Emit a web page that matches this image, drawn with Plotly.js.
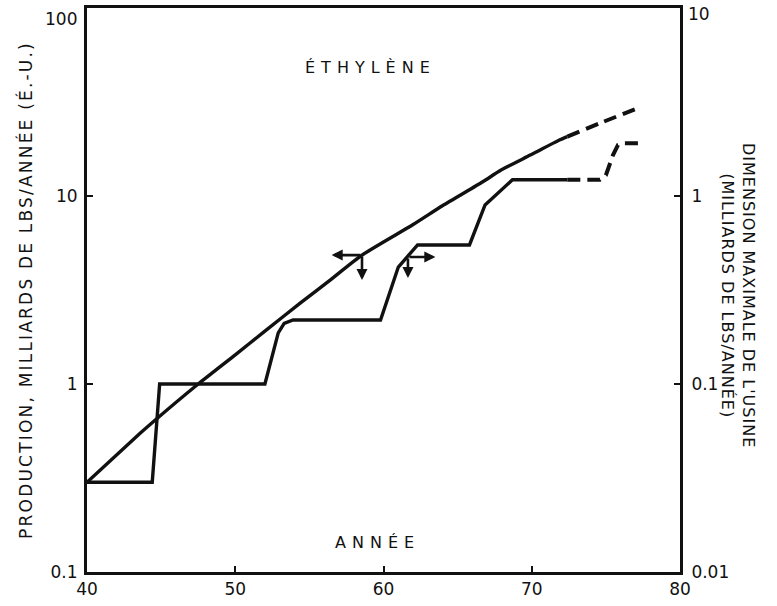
<!DOCTYPE html>
<html>
<head>
<meta charset="utf-8">
<script src="https://cdn.plot.ly/plotly-3.0.1.min.js"></script>
<style>html,body{margin:0;padding:0;background:#fff;}#chart{width:777px;height:606px;}</style>
</head>
<body>
<div id="chart"></div>
<script>
// Production (left axis, billions lbs/year)
const prodYears = [40, 43.6, 44.45, 47.5, 50, 52, 54.4, 56.4, 58.55, 62, 64, 66.7, 67.9, 69.9, 71.9, 72.4];
const prodValues = [0.3, 0.548, 0.628, 1.0, 1.43, 1.91, 2.70, 3.57, 4.85, 7.05, 8.9, 11.9, 13.7, 16.5, 19.9, 20.7];
const prodProjYears = [72.4, 74.6, 77.2];
const prodProjValues = [20.7, 24.4, 29.4];

// Maximum plant size (right axis, billions lbs/year)
const plantYears = [40, 44.4, 44.9, 52.0, 52.9, 53.3, 53.9, 59.8, 61.0, 61.6, 62.3, 65.8, 66.85, 68.7, 72.4];
const plantValues = [0.03, 0.03, 0.1, 0.1, 0.187, 0.21, 0.219, 0.219, 0.419, 0.474, 0.549, 0.549, 0.896, 1.22, 1.22];
const plantProjYears = [72.4, 74.6, 75.0, 75.48, 75.82, 76.15, 77.2];
const plantProjValues = [1.22, 1.22, 1.29, 1.65, 1.87, 1.91, 1.91];

// Axis ticks (top decade labels sit just under the frame, as in the original)
const xTicks = [40, 50, 60, 70, 80];
const leftTickVals = [0.1, 1, 10];
const leftTickText = ["0.1", "1", "10"];
const leftTopTick = [100, "100"];
const rightTickVals = [0.01, 0.1, 1];
const rightTickText = ["0.01", "0.1", "1"];
const rightTopTick = [10, "10"];

// Axis-reference arrows: [tailYear, tailValue, tipYear, tipValue]
const arrowMarks = [
  [58.55, 4.85, 56.5, 4.85],
  [58.55, 4.85, 58.55, 3.57],
  [61.65, 4.74, 63.5, 4.74],
  [61.65, 4.74, 61.65, 3.66]
];

const INK = '#111';
const FONT = 'DejaVu Sans, sans-serif';

const traces = [
  {x: prodYears, y: prodValues, type: 'scatter', mode: 'lines', yaxis: 'y',
   line: {color: INK, width: 3.4, shape: 'spline', smoothing: 0.6}, hoverinfo: 'skip'},
  {x: prodProjYears, y: prodProjValues, type: 'scatter', mode: 'lines', yaxis: 'y',
   line: {color: INK, width: 4, dash: '13px,7px', shape: 'spline', smoothing: 0.6}, hoverinfo: 'skip'},
  {x: plantYears, y: plantValues, type: 'scatter', mode: 'lines', yaxis: 'y2',
   line: {color: INK, width: 3.4}, hoverinfo: 'skip'},
  {x: plantProjYears, y: plantProjValues, type: 'scatter', mode: 'lines', yaxis: 'y2',
   line: {color: INK, width: 4, dash: '13px,7px'}, hoverinfo: 'skip'}
];

const annotations = arrowMarks.map(a => ({
  x: a[2], y: Math.log10(a[3]), ax: a[0], ay: Math.log10(a[1]),
  xref: 'x', yref: 'y', axref: 'x', ayref: 'y',
  text: '', showarrow: true, arrowhead: 2, arrowsize: 0.85, arrowwidth: 2.6, arrowcolor: INK
}));

annotations.push(
  {x: 0, y: Math.log10(leftTopTick[0]), xref: 'paper', yref: 'y', text: leftTopTick[1], showarrow: false,
   font: {family: FONT, size: 17, color: INK}, xanchor: 'right', yanchor: 'middle', xshift: -8, yshift: -11},
  {x: 1, y: Math.log10(rightTopTick[0]), xref: 'paper', yref: 'y2', text: rightTopTick[1], showarrow: false,
   font: {family: FONT, size: 17, color: INK}, xanchor: 'left', yanchor: 'middle', xshift: 6, yshift: -6},
  {x: 59.1, y: 0.895, xref: 'x', yref: 'paper', text: 'ÉTHYLÈNE', showarrow: false,
   font: {family: FONT, size: 16, color: INK}, xanchor: 'center', yanchor: 'middle'},
  {x: 59.6, y: 0.052, xref: 'x', yref: 'paper', text: 'ANNÉE', showarrow: false,
   font: {family: FONT, size: 16, color: INK}, xanchor: 'center', yanchor: 'middle'},
  {x: 1.098, y: 0.49, xref: 'paper', yref: 'paper', textangle: 90,
   text: "DIMENSION MAXIMALE DE L'USINE<br>(MILLIARDS DE LBS/ANNÉE)", showarrow: false,
   font: {family: FONT, size: 16, color: INK}, xanchor: 'center', yanchor: 'middle'}
);

const axisCommon = {
  showline: true, linecolor: INK, linewidth: 3, showgrid: false, zeroline: false,
  ticks: 'inside', ticklen: 6, tickwidth: 2, tickcolor: INK,
  ticklabeloverflow: 'allow',
  tickfont: {family: FONT, size: 17, color: INK}
};

const layout = {
  width: 777, height: 606,
  margin: {l: 87, r: 97, t: 8, b: 34},
  paper_bgcolor: '#fff', plot_bgcolor: '#fff',
  showlegend: false,
  xaxis: Object.assign({}, axisCommon, {
    range: [40, 80], tickvals: xTicks, ticktext: xTicks.map(String), mirror: true
  }),
  yaxis: Object.assign({}, axisCommon, {
    type: 'log', range: [-1, 2], tickvals: leftTickVals, ticktext: leftTickText,
    ticklabelstandoff: 3,
    title: {text: 'PRODUCTION, MILLIARDS DE LBS/ANNÉE (É.-U.)', font: {family: FONT, size: 17, color: INK}, standoff: 14}
  }),
  yaxis2: Object.assign({}, axisCommon, {
    type: 'log', range: [-2, 1], tickvals: rightTickVals, ticktext: rightTickText,
    overlaying: 'y', side: 'right', ticklabelstandoff: 5
  }),
  annotations: annotations
};

Plotly.newPlot('chart', traces, layout, {staticPlot: true}).then(() => {
  document.querySelectorAll('text.annotation-text').forEach(t => {
    const s = t.textContent;
    if (s === 'ÉTHYLÈNE' || s === 'ANNÉE') {
      t.style.letterSpacing = '6px';
    } else if (s.indexOf('DIMENSION') === 0) {
      t.style.letterSpacing = '1px';
    }
  });
  document.querySelectorAll('text.ytitle').forEach(t => {
    t.style.letterSpacing = '2.2px';
  });
});
</script>
</body>
</html>
